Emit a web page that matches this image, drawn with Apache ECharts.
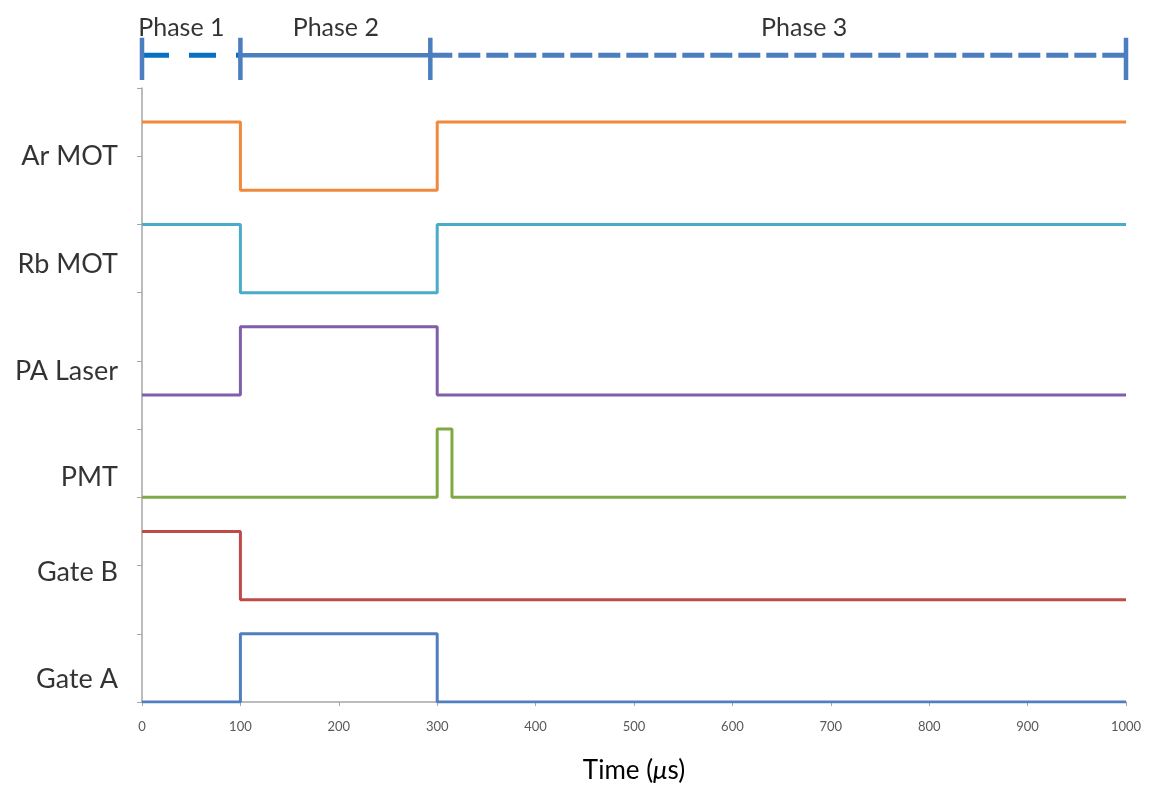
<!DOCTYPE html>
<html>
<head>
<meta charset="utf-8">
<title>Timing sequence</title>
<script src="https://cdn.jsdelivr.net/npm/echarts@6/dist/echarts.min.js"></script>
<style>
  html, body { margin: 0; padding: 0; background: #ffffff; }
  #chart { width: 1155px; height: 789px; }
</style>
</head>
<body>
<div id="chart"></div>
<script>
// Time axis (microseconds)
var timeTicks = [0, 100, 200, 300, 400, 500, 600, 700, 800, 900, 1000];

// Channel traces: breakpoint times and levels (stacked vertically)
var arMotT   = [0, 100, 100, 300, 300, 1000];
var arMotY   = [8.5, 8.5, 7.5, 7.5, 8.5, 8.5];
var rbMotT   = [0, 100, 100, 300, 300, 1000];
var rbMotY   = [7, 7, 6, 6, 7, 7];
var paLaserT = [0, 100, 100, 300, 300, 1000];
var paLaserY = [4.5, 4.5, 5.5, 5.5, 4.5, 4.5];
var pmtT     = [0, 300, 300, 315, 315, 1000];
var pmtY     = [3, 3, 4, 4, 3, 3];
var gateBT   = [0, 100, 100, 1000];
var gateBY   = [2.5, 2.5, 1.5, 1.5];
var gateAT   = [0, 100, 100, 300, 300, 1000];
var gateAY   = [0, 0, 1, 1, 0, 0];

// Channel names and the level where each name sits
var channelNames  = ['Ar MOT', 'Rb MOT', 'PA Laser', 'PMT', 'Gate B', 'Gate A'];
var channelLabelY = [8.0, 6.42, 4.85, 3.3, 1.9, 0.33];

// Phase bar: boundaries and label positions
var phaseBounds  = [0, 100, 293, 1000];
var phaseNames   = ['Phase 1', 'Phase 2', 'Phase 3'];
var phaseLabelX  = [40, 197, 673];

function pairs(t, y) {
  return t.map(function (v, i) { return [v, y[i]]; });
}

var FONT = 'Lato, "Open Sans", sans-serif';
var AXIS_GRAY = '#a6a6a6';
var TEXT = '#000000';

var traces = [
  { name: 'Ar MOT',   t: arMotT,   y: arMotY,   color: '#f0893b' },
  { name: 'Rb MOT',   t: rbMotT,   y: rbMotY,   color: '#4aacc6' },
  { name: 'PA Laser', t: paLaserT, y: paLaserY, color: '#7f5fa8' },
  { name: 'PMT',      t: pmtT,     y: pmtY,     color: '#7ea945' },
  { name: 'Gate B',   t: gateBT,   y: gateBY,   color: '#be4b48' },
  { name: 'Gate A',   t: gateAT,   y: gateAY,   color: '#4f7fc0' }
];

var series = traces.map(function (tr) {
  return {
    name: tr.name,
    type: 'line',
    xAxisIndex: 0, yAxisIndex: 0,
    data: pairs(tr.t, tr.y),
    showSymbol: false,
    silent: true,
    lineStyle: { color: tr.color, width: 3 },
    z: 3
  };
});

// Channel names placed left of the vertical axis
series.push({
  type: 'scatter',
  xAxisIndex: 0, yAxisIndex: 0,
  symbolSize: 0,
  silent: true,
  data: channelNames.map(function (n, i) { return { value: [0, channelLabelY[i]], name: n }; }),
  label: {
    show: true, position: 'left', distance: 24,
    formatter: '{b}', color: TEXT, fontSize: 27, fontFamily: FONT
  }
});

// Phase bar: segments between boundaries
var PHASE_Y = 0.45;
series.push({
  type: 'line', xAxisIndex: 1, yAxisIndex: 1, silent: true, showSymbol: false,
  data: [[phaseBounds[0], PHASE_Y], [phaseBounds[1], PHASE_Y]],
  lineStyle: { color: '#0a6fc2', width: 5, type: [27, 20] }
});
series.push({
  type: 'line', xAxisIndex: 1, yAxisIndex: 1, silent: true, showSymbol: false,
  data: [[phaseBounds[1], PHASE_Y], [phaseBounds[2], PHASE_Y]],
  lineStyle: { color: '#4a7ebf', width: 4.5 }
});
series.push({
  type: 'line', xAxisIndex: 1, yAxisIndex: 1, silent: true, showSymbol: false,
  data: [[phaseBounds[2], PHASE_Y], [phaseBounds[3], PHASE_Y]],
  lineStyle: { color: '#4a7ebf', width: 5, type: [22, 6] }
});
// Boundary markers
phaseBounds.forEach(function (b) {
  series.push({
    type: 'line', xAxisIndex: 1, yAxisIndex: 1, silent: true, showSymbol: false,
    data: [[b, 0], [b, 0.77]],
    lineStyle: { color: '#4a7ebf', width: 4.5 }
  });
});
// Phase titles
series.push({
  type: 'scatter', xAxisIndex: 1, yAxisIndex: 1, symbolSize: 0, silent: true,
  data: phaseNames.map(function (n, i) { return { value: [phaseLabelX[i], 0.95], name: n }; }),
  label: {
    show: true, position: 'inside', formatter: '{b}',
    color: TEXT, fontSize: 25, fontFamily: FONT
  }
});

var chart = echarts.init(document.getElementById('chart'), null, { renderer: 'canvas' });
chart.setOption({
  backgroundColor: '#ffffff',
  animation: false,
  grid: [
    { left: 142, right: 29, top: 88, bottom: 87, containLabel: false, outerBoundsMode: 'none' },
    { left: 142, right: 29, top: 14, height: 66, containLabel: false, outerBoundsMode: 'none' }
  ],
  xAxis: [
    {
      type: 'value', gridIndex: 0,
      min: timeTicks[0], max: timeTicks[timeTicks.length - 1], interval: 100,
      name: 'Time ({mu|μ}s)',
      nameLocation: 'middle', nameGap: 56,
      nameTextStyle: {
        fontSize: 26, fontFamily: FONT, color: TEXT,
        rich: { mu: { fontSize: 26, fontFamily: FONT, fontStyle: 'italic', color: TEXT } }
      },
      axisLine: { show: true, lineStyle: { color: AXIS_GRAY, width: 1.5 } },
      axisTick: { show: true, length: 4, lineStyle: { color: AXIS_GRAY } },
      axisLabel: {
        color: '#595959', fontSize: 13, fontFamily: FONT, margin: 18,
        formatter: function (v) { return String(v); }
      },
      splitLine: { show: false }
    },
    {
      type: 'value', gridIndex: 1, min: 0, max: 1000, show: false
    }
  ],
  yAxis: [
    {
      type: 'value', gridIndex: 0, min: 0, max: 9, interval: 1,
      axisLine: { show: true, lineStyle: { color: AXIS_GRAY, width: 1.5 } },
      axisTick: { show: true, length: 5, lineStyle: { color: AXIS_GRAY } },
      axisLabel: { show: false },
      splitLine: { show: false }
    },
    {
      type: 'value', gridIndex: 1, min: 0, max: 1.2, show: false
    }
  ],
  series: series
});
</script>
</body>
</html>
